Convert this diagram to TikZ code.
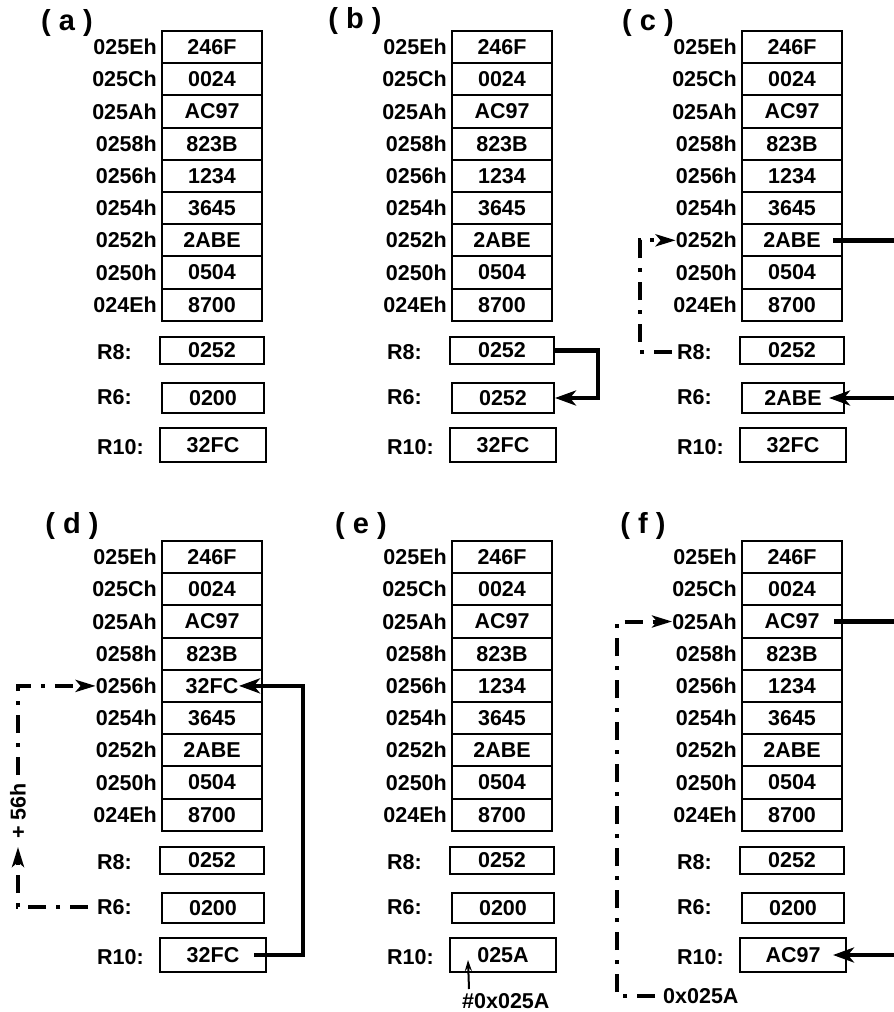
\documentclass[tikz,border=0pt]{standalone}
\usepackage{fontspec}
\setmainfont{Liberation Sans}
\usetikzlibrary{arrows.meta,calc}

\begin{document}
\begin{tikzpicture}[x=1pt,y=-1pt,
  every node/.style={font=\bfseries\fontsize{21.5}{21.5}\selectfont, inner sep=0pt},
  memcell/.style={draw, line width=2pt, minimum width=100pt, minimum height=32.2pt},
  regbox/.style={draw, line width=2pt},
  addrlabel/.style={anchor=east},
  reglabel/.style={anchor=west},
  panellabel/.style={font=\bfseries\fontsize{29}{29}\selectfont},
  ptrline/.style={line width=4.5pt, -{Stealth[length=21pt,width=15pt,inset=6pt]}},
  idxline/.style={line width=4pt, dash pattern=on 18pt off 10pt on 4pt off 10pt, -{Stealth[length=20pt,width=12pt,inset=5pt]}},
  thinptr/.style={line width=2pt, -{Stealth[length=11pt,width=7pt]}}]

  \clip (0,0) rectangle (894,1012);

  % memory and registers of each step
  \foreach \p/\X/\Y/\tx/\ty/\vals/\ra/\rb/\rc in {
    a/162/31/67/23/{246F,0024,AC97,823B,1234,3645,2ABE,0504,8700}/0252/0200/32FC,
    b/452/31/355/21/{246F,0024,AC97,823B,1234,3645,2ABE,0504,8700}/0252/0252/32FC,
    c/742/31/648/23/{246F,0024,AC97,823B,1234,3645,2ABE,0504,8700}/0252/2ABE/32FC,
    d/162/541/72/526/{246F,0024,AC97,823B,32FC,3645,2ABE,0504,8700}/0252/0200/32FC,
    e/452/541/361/526/{246F,0024,AC97,823B,1234,3645,2ABE,0504,8700}/0252/0200/025A,
    f/742/541/643/526/{246F,0024,AC97,823B,1234,3645,2ABE,0504,8700}/0252/0200/AC97}
  {
    \node[panellabel] (\p-title) at (\tx,\ty) {( \p{} )};
    \foreach \ad [count=\i] in {025E,025C,025A,0258,0256,0254,0252,0250,024E}
      \node[addrlabel] (\p-a\i) at ({\X-5},{\Y+32.2*\i-16.1}) {\ad h};
    \foreach \v [count=\i] in \vals
      \node[memcell] (\p-m\i) at ({\X+50},{\Y+32.2*\i-16.1}) {\v};
    \node[reglabel] (\p-l8) at ({\X-65},{\Y+321}) {R8:};
    \node[reglabel] (\p-l6) at ({\X-65},{\Y+366}) {R6:};
    \node[reglabel] (\p-l10) at ({\X-65},{\Y+416}) {R10:};
    \node[regbox, minimum width=104pt, minimum height=27pt] (\p-r8) at ({\X+50},{\Y+319.5}) {\ra};
    \node[regbox, minimum width=102pt, minimum height=30pt] (\p-r6) at ({\X+51},{\Y+367}) {\rb};
    \node[regbox, minimum width=106pt, minimum height=34pt] (\p-r10) at ({\X+51},{\Y+414}) {\rc};
  }

  % (b) MOV R8,R6
  \draw[ptrline] (b-r8.east) -- ++(43,0) |- (b-r6.east);

  % (c) indirect
  \coordinate (c-out) at (915,0);
  \coordinate (c-bend) at (645,0);
  \draw[ptrline] ([xshift=-10pt]c-m7.east) -- ([xshift=-10pt]c-m7.east -| c-out) |- ([xshift=-16pt]c-r6.east);
  \draw[idxline] ([xshift=-5pt]c-l8.west) -- ([xshift=-5pt]c-l8.west -| c-bend) |- (c-a7.west);

  % (d) indexed
  \coordinate (d-out) at (316,0);
  \node[rotate=90] (d-off) at (18,811) {+ 56h};
  \draw[ptrline] ([xshift=-13pt]d-r10.east) -- ([xshift=-13pt]d-r10.east -| d-out) |- ([xshift=-24pt]d-m5.east);
  \draw[idxline] ([xshift=-9pt]d-l6.west) -| ([yshift=-8pt]d-off.west);
  \draw[idxline] ([yshift=8pt]d-off.east) |- (d-a5.west);

  % (e) immediate
  \node[anchor=north west] (e-imm) at (462,993) {\#0x025A};
  \draw[thinptr] ($(e-imm.north west)+(7,-4)$) -- ($(e-r10.west)+(19,5)$);

  % (f) absolute
  \coordinate (f-out) at (915,0);
  \coordinate (f-bend) at (625,0);
  \node[anchor=west] (f-off) at (663,996) {0x025A};
  \draw[ptrline] ([xshift=-9pt]f-m3.east) -- ([xshift=-9pt]f-m3.east -| f-out) |- ([xshift=-14pt]f-r10.east);
  \draw[idxline] ([xshift=-8pt]f-off.west) -- ([xshift=-8pt]f-off.west -| f-bend) |- (f-a3.west);

\end{tikzpicture}
\end{document}
